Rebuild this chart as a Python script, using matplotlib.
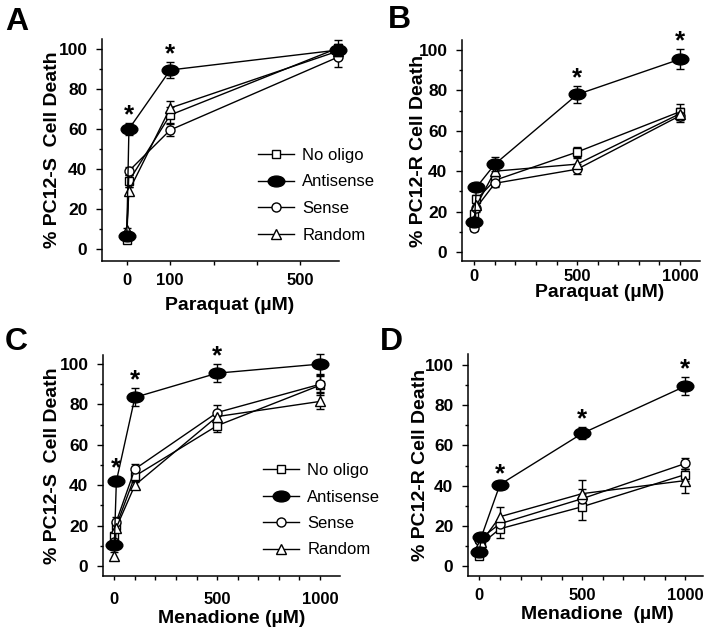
import numpy as np
import matplotlib
matplotlib.use('Agg')
import matplotlib.pyplot as plt
from matplotlib.path import Path
from matplotlib.transforms import Affine2D
from matplotlib.lines import Line2D

plt.rcParams['font.family'] = ['Liberation Sans', 'DejaVu Sans']

# ---------------- data ----------------
series_names = ['No oligo', 'Antisense', 'Sense', 'Random']

# Panel A: PC12-S, paraquat
conc_A = [0, 5, 100, 1000]
A_noolig = [4.5, 34, 67, 100.5]
A_noolig_err = [1, 3, 4, 4]
A_anti = [6.5, 60, 89.5, 99.5]
A_anti_err = [1.5, 3, 4, 3]
A_sense = [7, 39, 59.5, 96]
A_sense_err = [1, 2, 3, 5]
A_random = [9.5, 29, 70.5, 99]
A_random_err = [1, 2, 3.5, 3]
A_sig = [1, 2]

# Panel B: PC12-R, paraquat
conc_B = [0, 10, 100, 500, 1000]
B_noolig = [19, 26, 35.5, 49.5, 69.5]
B_noolig_err = [2, 2, 3, 2.5, 4]
B_anti = [15, 32, 43.5, 78, 95.5]
B_anti_err = [2, 2, 3.5, 4, 5]
B_sense = [12, 22, 34, 41, 67.5]
B_sense_err = [1.5, 2, 2, 2.5, 3]
B_random = [16, 23, 40, 43.5, 68.5]
B_random_err = [2, 2, 3, 3, 3]
B_sig = [3, 4]

# Panel C: PC12-S, menadione
conc_C = [0, 10, 100, 500, 1000]
C_noolig = [15, 20, 44.5, 69.5, 89.5]
C_noolig_err = [2, 2, 3, 3, 5]
C_anti = [10.5, 42, 83.5, 95.5, 100]
C_anti_err = [2, 2.5, 4.5, 4.5, 5]
C_sense = [12, 22, 48, 76, 90]
C_sense_err = [2, 2, 2.5, 3.5, 4]
C_random = [5, 19, 40, 74, 81.5]
C_random_err = [2, 2, 2, 3, 4]
C_sig = [1, 2, 3]

# Panel D: PC12-R, menadione
conc_D = [0, 10, 100, 500, 1000]
D_noolig = [5, 11, 18.5, 29.5, 45.5]
D_noolig_err = [1.5, 2, 4.5, 6.5, 3]
D_anti = [7, 14.5, 40.5, 66, 89.5]
D_anti_err = [1.5, 1.5, 1.5, 3, 4.5]
D_sense = [13, 14, 21, 33.5, 51]
D_sense_err = [1.5, 1.5, 2, 5, 2.5]
D_random = [8, 12, 24.5, 36, 42.5]
D_random_err = [1.5, 1.5, 5, 7, 6]
D_sig = [2, 3, 4]

ylabels = ['% PC12-S  Cell Death', '% PC12-R Cell Death',
           '% PC12-S  Cell Death', '% PC12-R Cell Death']
xlabels = ['Paraquat (\u00b5M)', 'Paraquat (\u00b5M)',
           'Menadione (\u00b5M)', 'Menadione  (\u00b5M)']
letters = ['A', 'B', 'C', 'D']

# ---------------- styling ----------------
W, H = 720, 631
fig = plt.figure(figsize=(W / 100, H / 100), dpi=100)

ellipse = Path.unit_circle().transformed(Affine2D().scale(1.0, 0.65))
styles = {
    'No oligo': dict(marker='s', ms=6.2, mfc='white'),
    'Antisense': dict(marker=ellipse, ms=12, mfc='black'),
    'Sense': dict(marker='o', ms=6.5, mfc='white'),
    'Random': dict(marker='^', ms=6.8, mfc='white'),
}
draw_order = ['No oligo', 'Sense', 'Random', 'Antisense']

def px_axes(l, r, t, b):
    return [l / W, 1 - b / H, (r - l) / W, (b - t) / H]

panels = [
    dict(rect=px_axes(102, 339, 39, 261), conc=conc_A,
         data={'No oligo': (A_noolig, A_noolig_err), 'Antisense': (A_anti, A_anti_err),
               'Sense': (A_sense, A_sense_err), 'Random': (A_random, A_random_err)},
         sig=A_sig, ylim=(-6, 105), xlim=(-57, 1020), xpad=5.5,
         ylab_x=-0.172, xlab=(0.54, -0.163), letter_xy=(5, 30),
         legend=(258, 148)),
    dict(rect=px_axes(462, 700, 40, 261), conc=conc_B,
         data={'No oligo': (B_noolig, B_noolig_err), 'Antisense': (B_anti, B_anti_err),
               'Sense': (B_sense, B_sense_err), 'Random': (B_random, B_random_err)},
         sig=B_sig, ylim=(-4.5, 105), xlim=(-60, 1097), xpad=2.5,
         ylab_x=-0.147, xlab=(0.58, -0.106), letter_xy=(388, 28), legend=None),
    dict(rect=px_axes(103, 340, 355, 576), conc=conc_C,
         data={'No oligo': (C_noolig, C_noolig_err), 'Antisense': (C_anti, C_anti_err),
               'Sense': (C_sense, C_sense_err), 'Random': (C_random, C_random_err)},
         sig=C_sig, ylim=(-5, 104.5), xlim=(-55, 1097), xpad=8.5,
         ylab_x=-0.176, xlab=(0.545, -0.155), letter_xy=(5, 350),
         legend=(263, 463)),
    dict(rect=px_axes(468, 703, 354, 576), conc=conc_D,
         data={'No oligo': (D_noolig, D_noolig_err), 'Antisense': (D_anti, D_anti_err),
               'Sense': (D_sense, D_sense_err), 'Random': (D_random, D_random_err)},
         sig=D_sig, ylim=(-5, 105.5), xlim=(-55, 1086), xpad=5.5,
         ylab_x=-0.165, xlab=(0.55, -0.135), letter_xy=(380, 350), legend=None),
]

# piecewise axis used in panel A
A_xp = [-1000, 0, 100, 200, 300, 500, 1000, 2000]
A_fp = [-10, 0, 1, 2, 3, 4, 4.87, 5.74]
def fwd(x):
    return np.interp(x, A_xp, A_fp)
def inv(y):
    return np.interp(y, A_fp, A_xp)

for i, p in enumerate(panels):
    ax = fig.add_axes(p['rect'])
    if i == 0:
        ax.set_xscale('function', functions=(fwd, inv))
    x = p['conc']
    for name in draw_order:
        y, e = p['data'][name]
        st = styles[name]
        ax.errorbar(x, y, yerr=e, color='black', lw=1.0, marker=st['marker'],
                    ms=st['ms'], mfc=st['mfc'], mec='black', mew=1.0,
                    capsize=2.6, elinewidth=1.0, capthick=1.0, clip_on=False,
                    zorder=3 if name != 'Antisense' else 4)
    ya, ea = p['data']['Antisense']
    for k in p['sig']:
        ax.annotate('*', xy=(x[k], ya[k] + ea[k]), xytext=(0, 0.5),
                    textcoords='offset points', ha='center', va='baseline',
                    fontsize=18.5, fontweight='bold', zorder=5)

    ax.set_xlim(*p['xlim'])
    ax.set_ylim(*p['ylim'])
    for s in ['top', 'right']:
        ax.spines[s].set_visible(False)
    for s in ['left', 'bottom']:
        ax.spines[s].set_linewidth(1.1)

    ax.set_yticks([0, 20, 40, 60, 80, 100])
    ax.set_yticks([10, 30, 50, 70, 90], minor=True)
    if i == 0:
        ax.set_xticks([0, 100, 200, 300, 500])
        ax.set_xticklabels(['0', '100', '', '', '500'])
    else:
        ax.set_xticks([0, 500, 1000])
        ax.set_xticks(list(range(100, 1000, 100)), minor=True)
    ax.tick_params(axis='y', which='major', direction='out', length=4, width=1.0,
                   pad=6.5, labelsize=12.5)
    ax.tick_params(axis='y', which='minor', direction='out', length=2.5, width=1.0)
    ax.tick_params(axis='x', which='both', direction='out', length=3, width=1.0,
                   pad=p['xpad'], labelsize=12)
    for lab in ax.get_xticklabels() + ax.get_yticklabels():
        lab.set_fontweight('bold')

    ax.set_ylabel(ylabels[i], fontsize=14, fontweight='bold')
    ax.yaxis.set_label_coords(p['ylab_x'], 0.5)
    ax.set_xlabel(xlabels[i], fontsize=14, fontweight='bold')
    ax.xaxis.set_label_coords(p['xlab'][0], p['xlab'][1])

    lx, ly = p['letter_xy']
    fig.text(lx / W, 1 - ly / H, letters[i], ha='left', va='baseline',
             fontsize=23, fontweight='bold')

    if p['legend'] is not None:
        handles = []
        for name in series_names:
            st = styles[name]
            handles.append(Line2D([], [], color='black', lw=1.0, marker=st['marker'],
                                  ms=st['ms'], mfc=st['mfc'], mec='black', mew=1.0))
        gx, gy = p['legend']
        ax.legend(handles, series_names, loc='upper left',
                  bbox_to_anchor=(gx / W, 1 - gy / H), bbox_transform=fig.transFigure,
                  frameon=False, borderpad=0, borderaxespad=0, fontsize=12,
                  handlelength=2.15, handletextpad=0.5, labelspacing=0.69)

fig.savefig('out.png', dpi=100)
